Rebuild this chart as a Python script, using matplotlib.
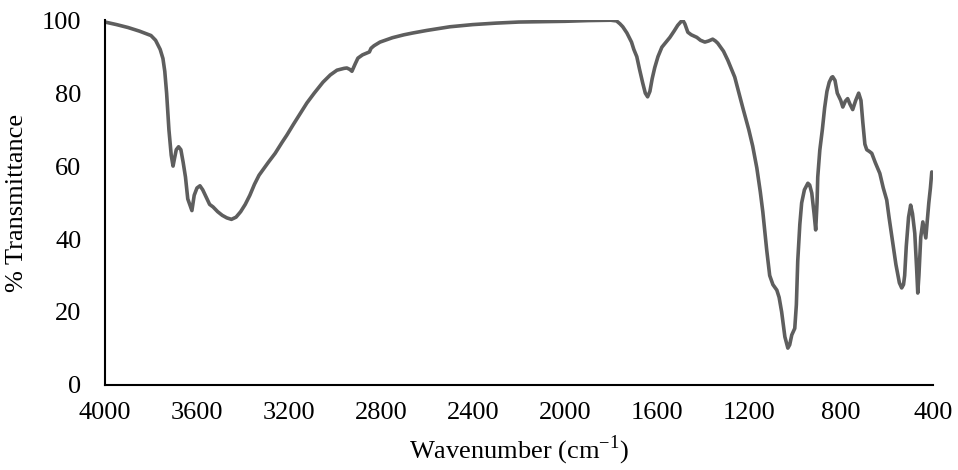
import matplotlib.pyplot as plt

plt.rcParams['font.family'] = ['Liberation Serif', 'DejaVu Serif']
plt.rcParams['mathtext.fontset'] = 'custom'
plt.rcParams['mathtext.rm'] = 'Liberation Serif'

# FTIR spectrum
wavenumber = [4000, 3950, 3900, 3850, 3800, 3780, 3760, 3748, 3740, 3732,
              3722, 3712, 3704, 3698, 3690, 3680, 3670, 3660, 3650, 3640,
              3622, 3612, 3600, 3587, 3575, 3560, 3545, 3530, 3510, 3490,
              3470, 3450, 3430, 3410, 3390, 3370, 3350, 3330, 3313, 3290,
              3260, 3230, 3209, 3180, 3150, 3122, 3090, 3052, 3020, 2991,
              2960, 2948, 2935, 2926, 2912, 2900, 2880, 2861, 2850, 2843,
              2830, 2804, 2750, 2700, 2661, 2600, 2500, 2400, 2300, 2200,
              2100, 2000, 1900, 1800, 1775, 1760, 1748, 1730, 1710, 1700,
              1687, 1675, 1661, 1650, 1640, 1630, 1620, 1609, 1595, 1578,
              1560, 1543, 1525, 1509, 1495, 1487, 1478, 1465, 1450, 1426,
              1410, 1391, 1375, 1357, 1345, 1335, 1310, 1291, 1261, 1226,
              1200, 1183, 1165, 1150, 1139, 1122, 1109, 1095, 1078, 1068,
              1057, 1043, 1030, 1022, 1013, 1000, 993, 987, 978, 970,
              958, 943, 935, 926, 916, 909, 903, 900, 891, 880,
              870, 860, 850, 840, 835, 825, 815, 800, 791, 780,
              770, 760, 748, 735, 722, 712, 704, 695, 687, 675,
              665, 650, 630, 615, 600, 590, 574, 560, 545, 535,
              527, 522, 515, 505, 496, 488, 478, 470, 465, 460,
              452, 443, 435, 430, 425, 417, 410, 404]
transmittance = [99.5, 98.8, 98.0, 97.0, 95.8, 94.5, 92.0, 89.5, 86.0, 80.0,
                 70.0, 63.0, 60.0, 62.0, 64.5, 65.3, 64.5, 61.0, 57.0, 51.0,
                 47.8, 52.0, 54.0, 54.6, 53.5, 51.5, 49.5, 48.8, 47.5, 46.5,
                 45.8, 45.4, 46.0, 47.5, 49.5, 52.0, 55.0, 57.5, 59.0, 61.0,
                 63.5, 66.5, 68.5, 71.5, 74.5, 77.3, 80.0, 83.0, 85.0, 86.3,
                 86.8, 86.9, 86.5, 86.0, 88.0, 89.6, 90.5, 91.0, 91.3, 92.3,
                 93.0, 94.0, 95.2, 96.0, 96.5, 97.2, 98.2, 98.8, 99.2, 99.5,
                 99.6, 99.7, 99.9, 100.0, 99.8, 99.0, 98.2, 96.5, 94.0, 92.0,
                 90.0, 86.5, 82.7, 80.0, 79.0, 80.5, 84.0, 87.0, 90.0, 92.6,
                 94.0, 95.3, 97.0, 98.6, 99.6, 100.0, 99.0, 96.7, 96.0, 95.3,
                 94.5, 94.0, 94.3, 94.8, 94.3, 93.7, 91.5, 89.0, 84.4, 76.0,
                 70.0, 65.5, 59.5, 53.0, 47.5, 37.0, 30.0, 27.5, 26.0, 24.0,
                 20.0, 13.2, 10.1, 11.0, 13.7, 15.5, 22.0, 34.0, 44.0, 49.9,
                 53.5, 55.3, 54.8, 52.6, 47.0, 42.5, 50.0, 57.0, 64.4, 70.0,
                 76.0, 80.5, 83.0, 84.3, 84.5, 83.5, 80.0, 78.0, 76.2, 77.8,
                 78.5, 77.0, 75.5, 78.0, 80.0, 78.0, 72.0, 66.0, 64.5, 64.0,
                 63.5, 61.0, 58.0, 54.0, 50.7, 46.0, 39.0, 33.0, 28.0, 26.6,
                 27.5, 30.0, 38.0, 46.0, 49.3, 47.0, 41.6, 32.0, 25.2, 30.0,
                 40.5, 44.7, 42.0, 40.3, 44.0, 49.9, 54.0, 58.4]

x_ticks = [4000, 3600, 3200, 2800, 2400, 2000, 1600, 1200, 800, 400]
y_ticks = [0, 20, 40, 60, 80, 100]

fig = plt.figure(figsize=(9.58, 4.70), dpi=100)
ax = fig.add_axes([0.1096, 0.181, 0.864, 0.776])

ax.plot(wavenumber, transmittance, color='#5e5e5e', linewidth=2.6,
        solid_joinstyle='round', solid_capstyle='round')

ax.set_xlim(4000, 400)
ax.set_ylim(0, 100)
ax.set_xticks(x_ticks)
ax.set_yticks(y_ticks)
ax.tick_params(length=0, labelsize=19)
ax.tick_params(axis='x', pad=12)
ax.tick_params(axis='y', pad=17)

for s in ['top', 'right']:
    ax.spines[s].set_visible(False)
for s in ['left', 'bottom']:
    ax.spines[s].set_linewidth(1.5)
    ax.spines[s].set_color('black')

ax.set_xlabel(r'Wavenumber (cm$^{\mathregular{-1}}$)', fontsize=19, labelpad=7)
ax.set_ylabel('% Transmittance', fontsize=19, labelpad=10)

fig.savefig('out.png', dpi=100)
